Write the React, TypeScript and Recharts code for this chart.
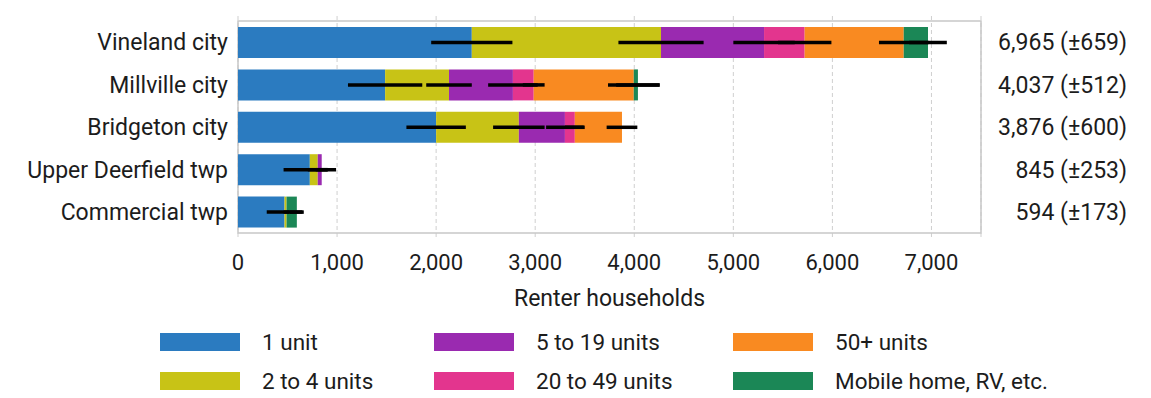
import React from "react";
import { BarChart, Bar, XAxis, YAxis, CartesianGrid, ErrorBar, ReferenceArea } from "recharts";

// Renter households by units in structure, Cumberland County places
const places = ["Vineland city", "Millville city", "Bridgeton city", "Upper Deerfield twp", "Commercial twp"];
const totals = [6965, 4037, 3876, 845, 594];
const totalMoe = [659, 512, 600, 253, 173];

const oneUnit = [2360, 1485, 2000, 725, 470];
const twoToFour = [1910, 645, 835, 80, 20];
const fiveToNineteen = [1040, 645, 465, 40, 0];
const twentyToFortyNine = [410, 210, 100, 0, 0];
const fiftyPlus = [1000, 1010, 476, 0, 0];
const mobileHome = [245, 42, 0, 0, 104];

const oneUnitMoe = [410, 375, 300, 265, 180];
const twoToFourMoe = [430, 230, 260, 100, 30];
const fiveToNineteenMoe = [310, 250, 190, 60, 0];
const twentyToFortyNineMoe = [270, 110, 100, 0, 0];
const fiftyPlusMoe = [250, 260, 155, 0, 0];
const mobileHomeMoe = [190, 220, 0, 0, 70];

const seriesKeys = ["oneUnit", "twoToFour", "fiveToNineteen", "twentyToFortyNine", "fiftyPlus", "mobileHome"];
const seriesNames = ["1 unit", "2 to 4 units", "5 to 19 units", "20 to 49 units", "50+ units", "Mobile home, RV, etc."];
const seriesColors = ["#2b7bc0", "#c8c316", "#9a2ab0", "#e3358e", "#f98a21", "#1b8756"];

const xTicks = [0, 1000, 2000, 3000, 4000, 5000, 6000, 7000];

const seriesValues = [oneUnit, twoToFour, fiveToNineteen, twentyToFortyNine, fiftyPlus, mobileHome];
const seriesMoes = [oneUnitMoe, twoToFourMoe, fiveToNineteenMoe, twentyToFortyNineMoe, fiftyPlusMoe, mobileHomeMoe];

const data = places.map((name, i) => {
  const row: Record<string, string | number> = {
    name,
    label: `${totals[i].toLocaleString("en-US")} (±${totalMoe[i]})`,
  };
  seriesKeys.forEach((key, s) => {
    row[key] = seriesValues[s][i];
    row[key + "Moe"] = seriesMoes[s][i];
  });
  return row;
});

const TEXT = "#1c1c1c";

function TotalTick(props: any) {
  const { x, y, payload } = props;
  const row = data.find((d) => d.name === payload.value);
  return (
    <text x={x + 138} y={y} dy="0.355em" textAnchor="end" fontSize={23} fill={TEXT}>
      {row ? row.label : ""}
    </text>
  );
}

function LegendBlock() {
  const colX = [160, 434, 733];
  const rowY = [333, 372];
  return (
    <>
      {seriesNames.map((name, s) => {
        const left = colX[Math.floor(s / 2)];
        const top = rowY[s % 2];
        return (
          <div key={name} style={{ position: "absolute", left, top, height: 18, display: "flex", alignItems: "center" }}>
            <div style={{ width: 80, height: 18, background: seriesColors[s] }} />
            <span style={{ marginLeft: 22, fontSize: 22.5, color: TEXT, whiteSpace: "nowrap" }}>{name}</span>
          </div>
        );
      })}
    </>
  );
}

export default function App() {
  return (
    <div style={{ position: "absolute", left: 0, top: 0, width: 1151, height: 398, background: "#fff", fontFamily: "Roboto, sans-serif" }}>
      <BarChart
        width={1151}
        height={320}
        data={data}
        layout="vertical"
        margin={{ top: 16, right: 0, bottom: 14, left: 0 }}
        barSize={31}
      >
        <CartesianGrid horizontal={false} stroke="#cfcfcf" strokeDasharray="4 3" />
        <ReferenceArea yAxisId="cat" x1={0} x2={7500} fill="none" stroke="#c8c8c8" strokeWidth={1.5} />
        <XAxis
          type="number"
          domain={[0, 7500]}
          ticks={xTicks}
          allowDataOverflow
          axisLine={false}
          tickLine={false}
          tickMargin={10}
          height={68}
          tick={{ fontSize: 22, fill: TEXT }}
          tickFormatter={(v: number) => v.toLocaleString("en-US")}
          label={{ value: "Renter households", position: "insideBottom", offset: 0, fontSize: 23, fill: TEXT }}
        />
        <YAxis
          yAxisId="cat"
          type="category"
          dataKey="name"
          width={238}
          axisLine={false}
          tickLine={false}
          tickMargin={4}
          padding={{ top: 5, bottom: 5 }}
          tick={{ fontSize: 23, fill: TEXT }}
        />
        <YAxis
          yAxisId="totals"
          orientation="right"
          type="category"
          dataKey="name"
          width={170}
          axisLine={false}
          tickLine={false}
          padding={{ top: 5, bottom: 5 }}
          tick={<TotalTick />}
        />
        {seriesKeys.map((key, s) => (
          <Bar
            key={key}
            yAxisId="cat"
            dataKey={key}
            name={seriesNames[s]}
            stackId="units"
            fill={seriesColors[s]}
            isAnimationActive={false}
          >
            <ErrorBar dataKey={key + "Moe"} direction="x" width={0} stroke="#000" strokeWidth={3.5} />
          </Bar>
        ))}
      </BarChart>
      <LegendBlock />
    </div>
  );
}
